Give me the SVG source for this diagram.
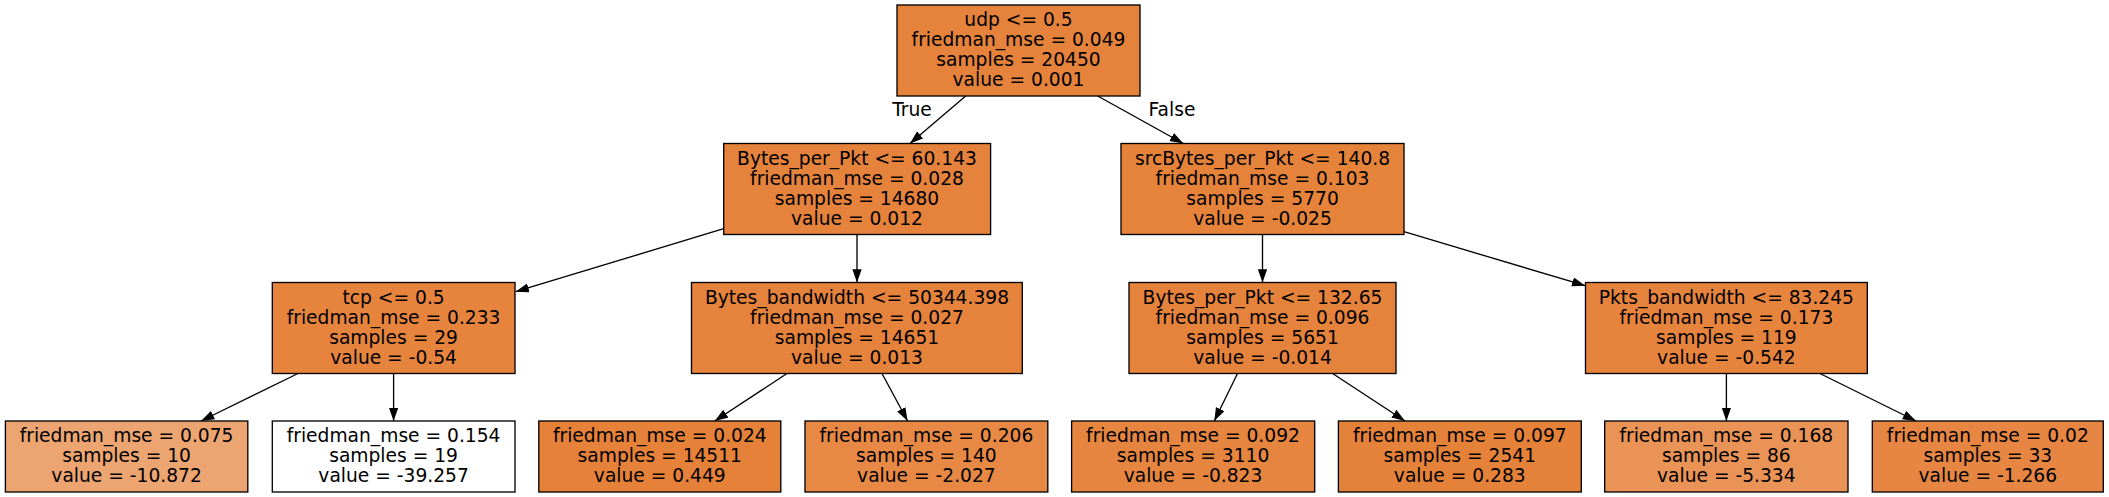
<svg xmlns="http://www.w3.org/2000/svg" width="2109" height="497" viewBox="0 0 2109 497">
<style>
.n rect{stroke:#000;stroke-width:1.33}
.n text,.lbl{font-family:"DejaVu Sans",sans-serif;font-size:18.67px;text-anchor:middle;fill:#000}
.e line{stroke:#000;stroke-width:1.33;marker-end:url(#ah)}
</style>
<defs>
<marker id="ah" markerUnits="userSpaceOnUse" markerWidth="14" markerHeight="10" refX="13.3" refY="4.67" orient="auto">
<path d="M0,0 L13.3,4.67 L0,9.33 Z" fill="#000"/>
</marker>
</defs>
<rect width="2109" height="497" fill="#fff"/>
<g id="edges" class="e">
<line x1="965.7" y1="96" x2="910" y2="143.5"/>
<line x1="1097.7" y1="96" x2="1183.3" y2="143.5"/>
<line x1="723.7" y1="228.7" x2="515.6" y2="291.7"/>
<line x1="857" y1="234.5" x2="857" y2="282.5"/>
<line x1="298" y1="373.5" x2="201" y2="421"/>
<line x1="393.6" y1="373.5" x2="393.6" y2="421"/>
<line x1="787" y1="373.5" x2="714.7" y2="421"/>
<line x1="882" y1="373.5" x2="907.6" y2="421"/>
<line x1="1262.5" y1="234.5" x2="1262.5" y2="282.5"/>
<line x1="1404" y1="231.7" x2="1585.3" y2="285.7"/>
<line x1="1237.5" y1="373.5" x2="1214.3" y2="421"/>
<line x1="1332.6" y1="373.5" x2="1405" y2="421"/>
<line x1="1726.4" y1="373.5" x2="1726.4" y2="421"/>
<line x1="1819.9" y1="373.5" x2="1916" y2="421"/>
<text class="lbl" x="912" y="116">True</text>
<text class="lbl" x="1172" y="116">False</text>
</g>
<g id="n0" class="n"><rect x="897" y="5" width="243" height="91" fill="#e5823b"/>
<text x="1018.5" y="26">udp &lt;= 0.5</text><text x="1018.5" y="46">friedman_mse = 0.049</text><text x="1018.5" y="66">samples = 20450</text><text x="1018.5" y="86">value = 0.001</text></g>
<g id="n1" class="n"><rect x="723.7" y="143.5" width="266.9" height="91" fill="#e5823b"/>
<text x="857" y="165">Bytes_per_Pkt &lt;= 60.143</text><text x="857" y="185">friedman_mse = 0.028</text><text x="857" y="205">samples = 14680</text><text x="857" y="225">value = 0.012</text></g>
<g id="n8" class="n"><rect x="1121" y="143.5" width="283" height="91" fill="#e5833b"/>
<text x="1262.5" y="165">srcBytes_per_Pkt &lt;= 140.8</text><text x="1262.5" y="185">friedman_mse = 0.103</text><text x="1262.5" y="205">samples = 5770</text><text x="1262.5" y="225">value = -0.025</text></g>
<g id="n2" class="n"><rect x="272.3" y="282.5" width="242.7" height="91" fill="#e6843e"/>
<text x="393.6" y="304">tcp &lt;= 0.5</text><text x="393.6" y="324">friedman_mse = 0.233</text><text x="393.6" y="344">samples = 29</text><text x="393.6" y="364">value = -0.54</text></g>
<g id="n5" class="n"><rect x="691.5" y="282.5" width="330.8" height="91" fill="#e5823b"/>
<text x="857" y="304">Bytes_bandwidth &lt;= 50344.398</text><text x="857" y="324">friedman_mse = 0.027</text><text x="857" y="344">samples = 14651</text><text x="857" y="364">value = 0.013</text></g>
<g id="n9" class="n"><rect x="1129" y="282.5" width="267" height="91" fill="#e5823b"/>
<text x="1262.5" y="304">Bytes_per_Pkt &lt;= 132.65</text><text x="1262.5" y="324">friedman_mse = 0.096</text><text x="1262.5" y="344">samples = 5651</text><text x="1262.5" y="364">value = -0.014</text></g>
<g id="n12" class="n"><rect x="1585.5" y="282.5" width="281.8" height="91" fill="#e6843e"/>
<text x="1726.4" y="304">Pkts_bandwidth &lt;= 83.245</text><text x="1726.4" y="324">friedman_mse = 0.173</text><text x="1726.4" y="344">samples = 119</text><text x="1726.4" y="364">value = -0.542</text></g>
<g id="n3" class="n"><rect x="5.4" y="421" width="242.4" height="71" fill="#eca571"/>
<text x="126.6" y="442">friedman_mse = 0.075</text><text x="126.6" y="462">samples = 10</text><text x="126.6" y="482">value = -10.872</text></g>
<g id="n4" class="n"><rect x="272.3" y="421" width="242.7" height="71" fill="#ffffff"/>
<text x="393.6" y="442">friedman_mse = 0.154</text><text x="393.6" y="462">samples = 19</text><text x="393.6" y="482">value = -39.257</text></g>
<g id="n6" class="n"><rect x="538.8" y="421" width="242" height="71" fill="#e58139"/>
<text x="659.8" y="442">friedman_mse = 0.024</text><text x="659.8" y="462">samples = 14511</text><text x="659.8" y="482">value = 0.449</text></g>
<g id="n7" class="n"><rect x="805" y="421" width="242.8" height="71" fill="#e78945"/>
<text x="926.4" y="442">friedman_mse = 0.206</text><text x="926.4" y="462">samples = 140</text><text x="926.4" y="482">value = -2.027</text></g>
<g id="n10" class="n"><rect x="1071.6" y="421" width="243.1" height="71" fill="#e6853f"/>
<text x="1193" y="442">friedman_mse = 0.092</text><text x="1193" y="462">samples = 3110</text><text x="1193" y="482">value = -0.823</text></g>
<g id="n11" class="n"><rect x="1338.4" y="421" width="242.9" height="71" fill="#e5823a"/>
<text x="1459.8" y="442">friedman_mse = 0.097</text><text x="1459.8" y="462">samples = 2541</text><text x="1459.8" y="482">value = 0.283</text></g>
<g id="n13" class="n"><rect x="1604.7" y="421" width="243.3" height="71" fill="#e99356"/>
<text x="1726.3" y="442">friedman_mse = 0.168</text><text x="1726.3" y="462">samples = 86</text><text x="1726.3" y="482">value = -5.334</text></g>
<g id="n14" class="n"><rect x="1872.3" y="421" width="231" height="71" fill="#e68642"/>
<text x="1987.8" y="442">friedman_mse = 0.02</text><text x="1987.8" y="462">samples = 33</text><text x="1987.8" y="482">value = -1.266</text></g>
</svg>
